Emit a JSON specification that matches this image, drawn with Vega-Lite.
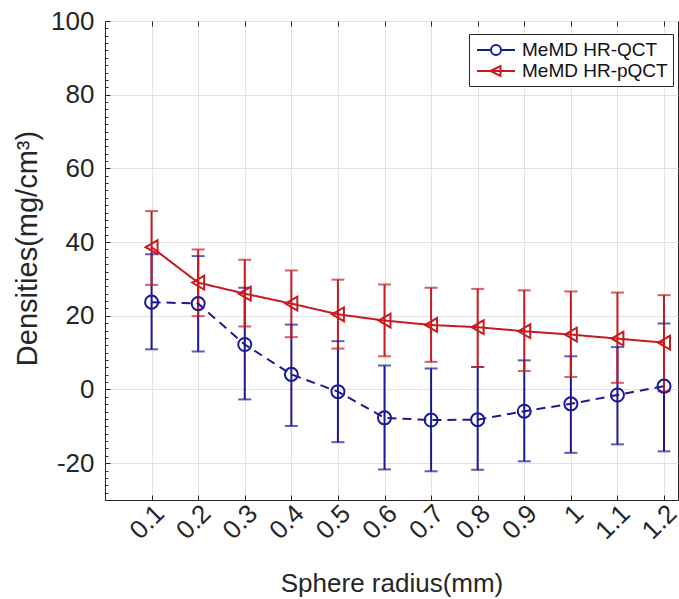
{
  "$schema": "https://vega.github.io/schema/vega-lite/v6.json",
  "width": 573,
  "height": 479,
  "autosize": "none",
  "padding": {"left": 105, "top": 21, "right": 1, "bottom": 99},
  "background": "white",
  "config": {
    "font": "Liberation Sans",
    "view": {"stroke": "#262626", "strokeWidth": 1},
    "axis": {"labelColor": "#262626", "titleColor": "#262626", "titleFontWeight": "normal", "domainColor": "#262626", "tickColor": "#262626"}
  },
  "data": {
    "values": [
      {"radius": 0.1, "series": "MeMD HR-QCT", "mean": 23.7, "lo": 10.9, "hi": 36.7},
      {"radius": 0.2, "series": "MeMD HR-QCT", "mean": 23.3, "lo": 10.3, "hi": 36.2},
      {"radius": 0.3, "series": "MeMD HR-QCT", "mean": 12.2, "lo": -2.7, "hi": 27.6},
      {"radius": 0.4, "series": "MeMD HR-QCT", "mean": 4.1, "lo": -9.9, "hi": 17.6},
      {"radius": 0.5, "series": "MeMD HR-QCT", "mean": -0.6, "lo": -14.3, "hi": 13.1},
      {"radius": 0.6, "series": "MeMD HR-QCT", "mean": -7.7, "lo": -21.7, "hi": 6.5},
      {"radius": 0.7, "series": "MeMD HR-QCT", "mean": -8.3, "lo": -22.2, "hi": 5.7},
      {"radius": 0.8, "series": "MeMD HR-QCT", "mean": -8.2, "lo": -21.8, "hi": 6.1},
      {"radius": 0.9, "series": "MeMD HR-QCT", "mean": -5.9, "lo": -19.5, "hi": 7.9},
      {"radius": 1.0, "series": "MeMD HR-QCT", "mean": -3.9, "lo": -17.2, "hi": 9.0},
      {"radius": 1.1, "series": "MeMD HR-QCT", "mean": -1.5, "lo": -14.9, "hi": 11.5},
      {"radius": 1.2, "series": "MeMD HR-QCT", "mean": 0.9, "lo": -16.8, "hi": 17.9},
      {"radius": 0.1, "series": "MeMD HR-pQCT", "mean": 38.6, "lo": 28.4, "hi": 48.4},
      {"radius": 0.2, "series": "MeMD HR-pQCT", "mean": 29.0, "lo": 19.9, "hi": 38.0},
      {"radius": 0.3, "series": "MeMD HR-pQCT", "mean": 26.0, "lo": 17.1, "hi": 35.2},
      {"radius": 0.4, "series": "MeMD HR-pQCT", "mean": 23.3, "lo": 14.2, "hi": 32.3},
      {"radius": 0.5, "series": "MeMD HR-pQCT", "mean": 20.4, "lo": 11.1, "hi": 29.8},
      {"radius": 0.6, "series": "MeMD HR-pQCT", "mean": 18.7, "lo": 9.0, "hi": 28.5},
      {"radius": 0.7, "series": "MeMD HR-pQCT", "mean": 17.5, "lo": 7.5, "hi": 27.6},
      {"radius": 0.8, "series": "MeMD HR-pQCT", "mean": 16.9, "lo": 6.1, "hi": 27.3},
      {"radius": 0.9, "series": "MeMD HR-pQCT", "mean": 15.8, "lo": 5.0, "hi": 26.9},
      {"radius": 1.0, "series": "MeMD HR-pQCT", "mean": 14.9, "lo": 3.4, "hi": 26.6},
      {"radius": 1.1, "series": "MeMD HR-pQCT", "mean": 13.8, "lo": 1.8, "hi": 26.3},
      {"radius": 1.2, "series": "MeMD HR-pQCT", "mean": 12.7, "lo": -0.5, "hi": 25.6}
    ]
  },
  "resolve": {"axis": {"x": "independent", "y": "independent"}, "legend": {"color": "independent", "shape": "independent", "strokeDash": "independent"}},
  "layer": [
    {
      "mark": {"type": "rule", "strokeWidth": 2},
      "encoding": {
        "x": {"field": "radius", "type": "quantitative",
          "scale": {"domain": [0, 1.23], "nice": false, "zero": false},
          "axis": {"values": [0.1,0.2,0.3,0.4,0.5,0.6,0.7,0.8,0.9,1.0,1.1,1.2], "format": "~g",
            "title": "Sphere radius(mm)", "titleFontSize": 26, "titleY": 91, "titleBaseline": "alphabetic",
            "labelFontSize": 26, "labelAngle": -45, "labelAlign": "right", "labelBaseline": "middle", "labelPadding": 14, "labelOffset": 8,
            "labelOverlap": false, "labelBound": false, "labelFlush": false,
            "grid": true, "gridColor": "#e3e3e3", "gridWidth": 1, "tickSize": -5, "domainColor": "#262626"}},
        "y": {"field": "lo", "type": "quantitative",
          "scale": {"domain": [-30, 100], "nice": false, "zero": false},
          "axis": {"values": [-30,-28,-26,-24,-22,-20,-18,-16,-14,-12,-10,-8,-6,-4,-2,0,2,4,6,8,10,12,14,16,18,20,22,24,26,28,30,32,34,36,38,40,42,44,46,48,50,52,54,56,58,60,62,64,66,68,70,72,74,76,78,80,82,84,86,88,90,92,94,96,98,100],
            "labelExpr": "datum.value % 20 === 0 ? '' + datum.value : ''",
            "title": "Densities(mg/cm³)", "titleFontSize": 29, "titleX": -63, "titleY": 227,
            "labelFontSize": 26, "labelPadding": 16, "labelOverlap": false, "labelBound": false, "labelFlush": false,
            "grid": true, "gridColor": "#e3e3e3",
            "gridOpacity": {"condition": {"test": "datum.value % 20 === 0", "value": 1}, "value": 0},
            "tickSize": {"condition": {"test": "datum.value % 20 === 0", "value": -5}, "value": -3},
            "domainColor": "#262626"}},
        "y2": {"field": "hi"},
        "color": {"field": "series", "type": "nominal", "legend": null,
          "scale": {"domain": ["MeMD HR-QCT", "MeMD HR-pQCT"], "range": ["#1a1a96", "#c81a1e"]}}
      }
    },
    {
      "mark": {"type": "tick", "orient": "horizontal", "size": 13, "thickness": 2},
      "encoding": {
        "x": {"field": "radius", "type": "quantitative",
          "axis": {"orient": "top", "values": [0.1,0.2,0.3,0.4,0.5,0.6,0.7,0.8,0.9,1.0,1.1,1.2], "labels": false, "grid": false, "domain": false, "tickSize": -5, "title": null}},
        "y": {"field": "hi", "type": "quantitative", "axis": null},
        "color": {"field": "series", "type": "nominal", "legend": null}
      }
    },
    {
      "mark": {"type": "tick", "orient": "horizontal", "size": 13, "thickness": 2},
      "encoding": {
        "x": {"field": "radius", "type": "quantitative", "axis": null},
        "y": {"field": "lo", "type": "quantitative", "axis": null},
        "color": {"field": "series", "type": "nominal", "legend": null}
      }
    },
    {
      "mark": {"type": "line", "strokeWidth": 2},
      "encoding": {
        "x": {"field": "radius", "type": "quantitative", "axis": null},
        "y": {"field": "mean", "type": "quantitative", "axis": null},
        "color": {"field": "series", "type": "nominal", "legend": null},
        "strokeDash": {"field": "series", "type": "nominal", "legend": null,
          "scale": {"domain": ["MeMD HR-QCT", "MeMD HR-pQCT"], "range": [[9, 6], [1, 0]]}}
      }
    },
    {
      "transform": [{"filter": "datum.series === 'MeMD HR-QCT'"}],
      "mark": {"type": "point", "shape": "circle", "filled": false, "size": 170, "strokeWidth": 2, "opacity": 1},
      "encoding": {
        "x": {"field": "radius", "type": "quantitative", "axis": null},
        "y": {"field": "mean", "type": "quantitative", "axis": null},
        "color": {"field": "series", "type": "nominal", "legend": null}
      }
    },
    {
      "transform": [{"filter": "datum.series === 'MeMD HR-pQCT'"}],
      "mark": {"type": "point", "shape": "triangle-left", "filled": false, "size": 190, "strokeWidth": 2, "opacity": 1},
      "encoding": {
        "x": {"field": "radius", "type": "quantitative", "axis": null},
        "y": {"field": "mean", "type": "quantitative", "axis": null},
        "color": {"field": "series", "type": "nominal", "legend": null}
      }
    },
    {
      "mark": {"type": "point", "filled": false, "opacity": 0, "strokeWidth": 2},
      "encoding": {
        "x": {"field": "radius", "type": "quantitative", "axis": null},
        "y": {"field": "mean", "type": "quantitative", "axis": null},
        "color": {"field": "series", "type": "nominal",
          "legend": {"orient": "none", "legendX": 364, "legendY": 13, "title": null,
            "strokeColor": "#262626", "fillColor": "white", "padding": 5, "rowPadding": 0,
            "labelFontSize": 19, "labelColor": "#111111", "labelOffset": 26,
            "symbolSize": 400, "symbolStrokeWidth": 2, "symbolOpacity": 1, "symbolFillColor": "transparent"}},
        "shape": {"field": "series", "type": "nominal",
          "scale": {"domain": ["MeMD HR-QCT", "MeMD HR-pQCT"],
            "range": ["M-0.8,0L0.6,0M1.6,0L3.0,0M0.6,0A0.5,0.5,0,1,1,1.6,0A0.5,0.5,0,1,1,0.6,0Z",
                      "M-0.8,0L3.0,0M0.55,0L1.55,-0.5L1.55,0.5Z"]},
          "legend": {"orient": "none", "legendX": 364, "legendY": 13, "title": null,
            "strokeColor": "#262626", "fillColor": "white", "padding": 5, "rowPadding": 0,
            "labelFontSize": 19, "labelColor": "#111111", "labelOffset": 26,
            "symbolSize": 400, "symbolStrokeWidth": 2, "symbolOpacity": 1, "symbolFillColor": "transparent"}}
      }
    }
  ]
}
